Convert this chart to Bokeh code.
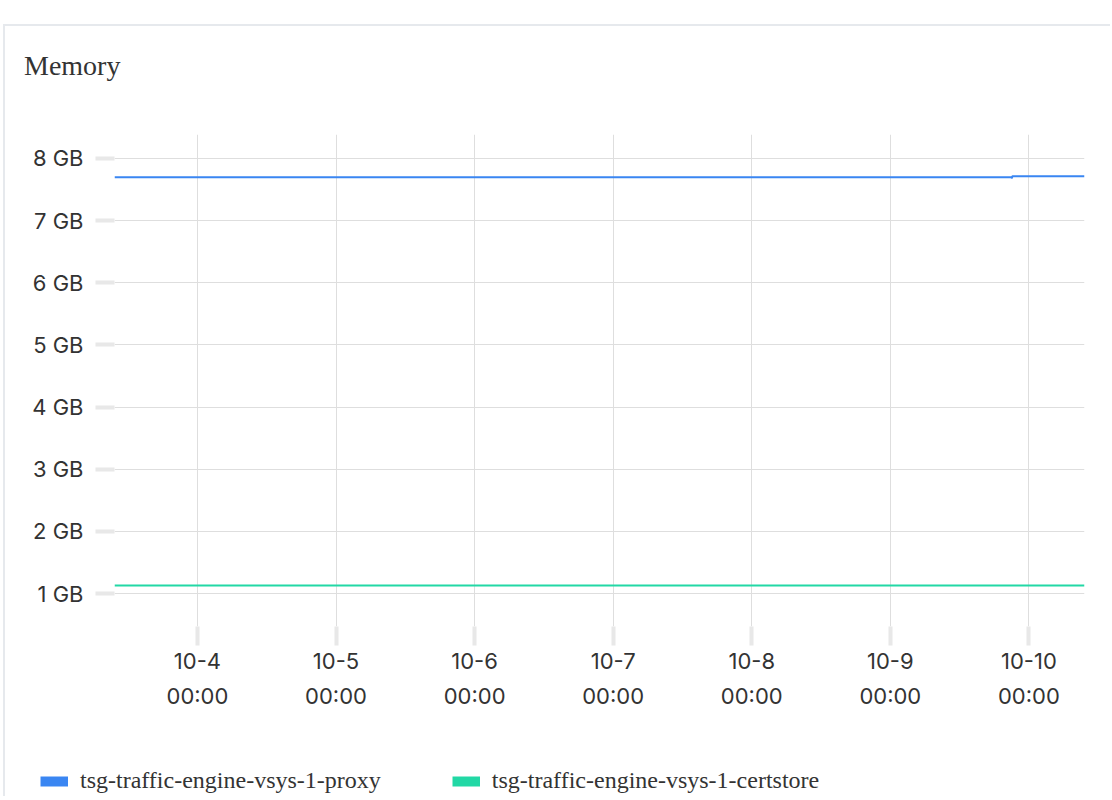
import calendar
from datetime import datetime
from bokeh.plotting import figure
from bokeh.models import Range1d, FixedTicker, Legend, LegendItem, Div
from bokeh.layouts import column
from bokeh.embed import file_html
from bokeh.resources import INLINE

# ---- data ----
chart_title = "Memory"
series_names = ["tsg-traffic-engine-vsys-1-proxy", "tsg-traffic-engine-vsys-1-certstore"]
proxy_times = ["2023-10-03 09:38", "2023-10-09 21:00", "2023-10-09 21:04", "2023-10-09 21:08", "2023-10-10 09:38"]
proxy_gb = [7.70, 7.70, 7.68, 7.715, 7.715]
certstore_times = ["2023-10-03 09:38", "2023-10-10 09:38"]
certstore_gb = [1.13, 1.13]
x_tick_times = ["2023-10-04 00:00", "2023-10-05 00:00", "2023-10-06 00:00", "2023-10-07 00:00",
                "2023-10-08 00:00", "2023-10-09 00:00", "2023-10-10 00:00"]
x_tick_labels = ["10-4\n00:00", "10-5\n00:00", "10-6\n00:00", "10-7\n00:00",
                 "10-8\n00:00", "10-9\n00:00", "10-10\n00:00"]
y_tick_values = [1, 2, 3, 4, 5, 6, 7, 8]
y_tick_labels = ["1 GB", "2 GB", "3 GB", "4 GB", "5 GB", "6 GB", "7 GB", "8 GB"]
x_start, x_end = "2023-10-03 09:38", "2023-10-10 09:38"
y_start, y_end = 0.469, 8.386

BLUE = "#3a86f2"
GREEN = "#22d8a5"
TEXT = "#333333"
GRID = "#dedede"
TICK = "#e8e8e8"
W = 1105


def ms(s):
    return calendar.timegm(datetime.strptime(s, "%Y-%m-%d %H:%M").timetuple()) * 1000.0


title_div = Div(text=('<div style="font-family: \'Liberation Serif\'; font-size: 28px; color: #333333; '
                      'line-height: 32px; padding: 24px 0 0 19px; margin: 0;">%s</div>' % chart_title),
                width=W, height=80, margin=0)

p = figure(width=W, height=644, output_backend="svg", toolbar_location=None,
           x_range=Range1d(ms(x_start), ms(x_end)), y_range=Range1d(y_start, y_end),
           min_border_left=109, min_border_right=26, min_border_top=28, min_border_bottom=124)
p.outline_line_color = None

xt = [ms(t) for t in x_tick_times]
p.xaxis.ticker = FixedTicker(ticks=xt)
p.xaxis.major_label_overrides = {t: lab for t, lab in zip(xt, x_tick_labels)}
p.yaxis.ticker = FixedTicker(ticks=y_tick_values)
p.yaxis.major_label_overrides = {v: lab for v, lab in zip(y_tick_values, y_tick_labels)}

for ax in (p.xaxis, p.yaxis):
    ax.axis_line_color = None
    ax.major_tick_in = 0
    ax.major_tick_out = 19
    ax.major_tick_line_width = 4
    ax.major_tick_line_color = TICK
    ax.minor_tick_line_color = None
    ax.major_label_text_font = "Inter"
    ax.major_label_text_font_size = "22px"
    ax.major_label_text_color = TEXT
p.xaxis.major_label_standoff = 2
p.xaxis.major_label_text_line_height = 1.38
p.yaxis.major_label_standoff = 12

p.grid.grid_line_color = GRID
p.grid.grid_line_width = 1

p.line([ms(t) for t in proxy_times], proxy_gb, line_width=2, color=BLUE)
p.line([ms(t) for t in certstore_times], certstore_gb, line_width=2, color=GREEN)

# legend strip (its own frame, not aligned with the main plot's frame)
lg = figure(width=W, height=46, output_backend="svg", toolbar_location=None,
            x_range=Range1d(0, 1), y_range=Range1d(0, 1),
            x_axis_location=None, y_axis_location=None,
            min_border_left=0, min_border_right=0, min_border_top=0, min_border_bottom=0)
lg.frame_align = False
lg.outline_line_color = None
lg.grid.visible = False
d1 = lg.line([5, 6], [5, 6], line_width=10, color=BLUE)
d2 = lg.line([5, 6], [5, 6], line_width=10, color=GREEN)

legend = Legend(items=[LegendItem(label=series_names[0], renderers=[d1]),
                       LegendItem(label=series_names[1], renderers=[d2])],
                location=(35, 2), orientation="horizontal",
                glyph_width=28, glyph_height=24, label_height=24, label_standoff=12,
                spacing=71, padding=0, margin=0,
                label_text_font="Liberation Serif", label_text_font_size="24px",
                label_text_color=TEXT, border_line_alpha=0, background_fill_alpha=0)
lg.add_layout(legend, "center")

layout = column(title_div, p, lg, margin=(24, 0, 0, 3), spacing=0,
                styles={"border-top": "2px solid #e6e9ed", "border-left": "2px solid #e6e9ed"})

open("out.html", "w").write(file_html(layout, INLINE))
